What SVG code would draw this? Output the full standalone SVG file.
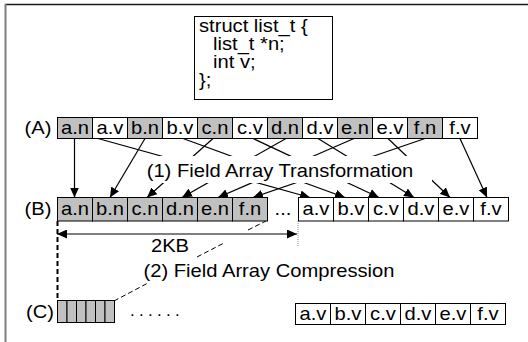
<svg xmlns="http://www.w3.org/2000/svg" width="528" height="342" viewBox="0 0 528 342">
  <style>
    .t { font-family: "Liberation Sans", Arial, sans-serif; font-size: 18px; fill: #000;
         transform-box: fill-box; transform: scaleX(1.12); }
    .c { text-anchor: middle; transform-origin: center; }
    .s { text-anchor: start; transform-origin: left center; }
    .cell { stroke: #000; stroke-width: 1; }
    .n { fill: #c0c0c0; }
    .v { fill: #fff; }
    .conn { stroke: #000; stroke-width: 1.2; fill: none; }
    .arr { marker-end: url(#head); }
  </style>
  <defs>
    <marker id="head" viewBox="0 0 10 9" refX="10" refY="4.5" markerWidth="10" markerHeight="9"
            markerUnits="userSpaceOnUse" orient="auto-start-reverse">
      <path d="M0,0 L10,4.5 L0,9 z" fill="#000"/>
    </marker>
  </defs>

  <rect width="528" height="342" fill="#fff"/>

  <!-- frame -->
  <g id="frame">
    <line x1="5" y1="4.5" x2="528" y2="4.5" stroke="#1a1a1a" stroke-width="1.5"/>
    <line x1="5.5" y1="4" x2="5.5" y2="342" stroke="#7f7f7f" stroke-width="2"/>
  </g>

  <!-- struct declaration -->
  <g id="struct">
    <rect x="194.5" y="16.5" width="138" height="83" fill="#fff" stroke="#000" stroke-width="1"/>
    <text class="t s" x="199" y="32">struct list_t {</text>
    <text class="t s" x="213" y="50">list_t *n;</text>
    <text class="t s" x="213" y="68">int v;</text>
    <text class="t s" x="199" y="86">};</text>
  </g>

  <!-- connectors: field moves from (A) to (B) -->
  <g id="connectors">
    <line class="conn arr" x1="74.5" y1="138.5" x2="74.5" y2="197.5"/>
    <line class="conn arr" x1="98" y1="138.5" x2="310" y2="197.5"/>
    <line class="conn arr" x1="145" y1="138.5" x2="110" y2="197.5"/>
    <line class="conn arr" x1="183" y1="138.5" x2="345" y2="197.5"/>
    <line class="conn arr" x1="213" y1="138.5" x2="147" y2="197.5"/>
    <line class="conn arr" x1="253" y1="138.5" x2="379" y2="197.5"/>
    <line class="conn arr" x1="286" y1="138.5" x2="182" y2="197.5"/>
    <line class="conn arr" x1="318" y1="138.5" x2="414" y2="197.5"/>
    <line class="conn arr" x1="354" y1="138.5" x2="218" y2="197.5"/>
    <line class="conn arr" x1="388" y1="138.5" x2="450" y2="197.5"/>
    <line class="conn arr" x1="425" y1="138.5" x2="253" y2="197.5"/>
    <line class="conn arr" x1="460" y1="138.5" x2="487" y2="197.5"/>
    <!-- 2KB span -->
    <line class="conn" x1="57" y1="234" x2="297" y2="234" marker-start="url(#head)" marker-end="url(#head)"/>
    <line x1="57.5" y1="221" x2="57.5" y2="301" stroke="#000" stroke-width="2" stroke-dasharray="5 3"/>
    <line x1="298" y1="221" x2="298" y2="246" stroke="#888" stroke-width="1" stroke-dasharray="1 1"/>
    <!-- compression -->
    <path d="M114,301 L148,283 M197,257 L224,243 M248,230 L266,221" stroke="#000" stroke-width="1" stroke-dasharray="5 3" fill="none"/>
  </g>

  <!-- step labels -->
  <g id="label-transform">
    <rect x="140" y="156" width="292" height="27" fill="#fff"/>
    <text class="t c" x="280" y="177">(1) Field Array Transformation</text>
  </g>
  <g id="label-2kb">
    <text class="t c" x="170" y="252">2KB</text>
  </g>
  <g id="label-compress">
    <text class="t c" x="269" y="277">(2) Field Array Compression</text>
  </g>

  <!-- row labels -->
  <text class="t c" x="38" y="134">(A)</text>
  <text class="t c" x="38" y="215">(B)</text>
  <text class="t c" x="40" y="318">(C)</text>

  <!-- (A) array of structs -->
  <g id="rowA">
    <g id="A-a-n"><rect class="cell n" x="57.5" y="117.5" width="35" height="21"/><text class="t c" x="75" y="134">a.n</text></g>
    <g id="A-a-v"><rect class="cell v" x="92.5" y="117.5" width="35" height="21"/><text class="t c" x="110" y="134">a.v</text></g>
    <g id="A-b-n"><rect class="cell n" x="127.5" y="117.5" width="35" height="21"/><text class="t c" x="145" y="134">b.n</text></g>
    <g id="A-b-v"><rect class="cell v" x="162.5" y="117.5" width="35" height="21"/><text class="t c" x="180" y="134">b.v</text></g>
    <g id="A-c-n"><rect class="cell n" x="197.5" y="117.5" width="35" height="21"/><text class="t c" x="215" y="134">c.n</text></g>
    <g id="A-c-v"><rect class="cell v" x="232.5" y="117.5" width="35" height="21"/><text class="t c" x="250" y="134">c.v</text></g>
    <g id="A-d-n"><rect class="cell n" x="267.5" y="117.5" width="35" height="21"/><text class="t c" x="285" y="134">d.n</text></g>
    <g id="A-d-v"><rect class="cell v" x="302.5" y="117.5" width="35" height="21"/><text class="t c" x="320" y="134">d.v</text></g>
    <g id="A-e-n"><rect class="cell n" x="337.5" y="117.5" width="35" height="21"/><text class="t c" x="355" y="134">e.n</text></g>
    <g id="A-e-v"><rect class="cell v" x="372.5" y="117.5" width="35" height="21"/><text class="t c" x="390" y="134">e.v</text></g>
    <g id="A-f-n"><rect class="cell n" x="407.5" y="117.5" width="35" height="21"/><text class="t c" x="425" y="134">f.n</text></g>
    <g id="A-f-v"><rect class="cell v" x="442.5" y="117.5" width="35" height="21"/><text class="t c" x="460" y="134">f.v</text></g>
  </g>

  <!-- (B) field arrays -->
  <g id="rowB">
    <g id="B-a-n"><rect class="cell n" x="57.5" y="197.5" width="35" height="23.5"/><text class="t c" x="75" y="215">a.n</text></g>
    <g id="B-b-n"><rect class="cell n" x="92.5" y="197.5" width="35" height="23.5"/><text class="t c" x="110" y="215">b.n</text></g>
    <g id="B-c-n"><rect class="cell n" x="127.5" y="197.5" width="35" height="23.5"/><text class="t c" x="145" y="215">c.n</text></g>
    <g id="B-d-n"><rect class="cell n" x="162.5" y="197.5" width="35" height="23.5"/><text class="t c" x="180" y="215">d.n</text></g>
    <g id="B-e-n"><rect class="cell n" x="197.5" y="197.5" width="35" height="23.5"/><text class="t c" x="215" y="215">e.n</text></g>
    <g id="B-f-n"><rect class="cell n" x="232.5" y="197.5" width="35" height="23.5"/><text class="t c" x="250" y="215">f.n</text></g>
    <text class="t c" x="283" y="215">...</text>
    <g id="B-a-v"><rect class="cell v" x="298.5" y="197.5" width="35" height="23.5"/><text class="t c" x="316" y="215">a.v</text></g>
    <g id="B-b-v"><rect class="cell v" x="333.5" y="197.5" width="35" height="23.5"/><text class="t c" x="351" y="215">b.v</text></g>
    <g id="B-c-v"><rect class="cell v" x="368.5" y="197.5" width="35" height="23.5"/><text class="t c" x="386" y="215">c.v</text></g>
    <g id="B-d-v"><rect class="cell v" x="403.5" y="197.5" width="35" height="23.5"/><text class="t c" x="421" y="215">d.v</text></g>
    <g id="B-e-v"><rect class="cell v" x="438.5" y="197.5" width="35" height="23.5"/><text class="t c" x="456" y="215">e.v</text></g>
    <g id="B-f-v"><rect class="cell v" x="473.5" y="197.5" width="35" height="23.5"/><text class="t c" x="491" y="215">f.v</text></g>
  </g>

  <!-- (C) compressed pointer array -->
  <g id="rowC">
    <g id="C-packed">
      <rect class="cell n" x="57.5" y="300.5" width="9.5" height="22"/>
      <rect class="cell n" x="67" y="300.5" width="9.5" height="22"/>
      <rect class="cell n" x="76.5" y="300.5" width="9.5" height="22"/>
      <rect class="cell n" x="86" y="300.5" width="9.5" height="22"/>
      <rect class="cell n" x="95.5" y="300.5" width="9.5" height="22"/>
      <rect class="cell n" x="105" y="300.5" width="9.5" height="22"/>
    </g>
    <text x="130" y="316" font-family="Liberation Sans, Arial, sans-serif" font-size="17" letter-spacing="4.3">......</text>
    <g id="C-a-v"><rect class="cell v" x="295.5" y="303.5" width="35" height="21"/><text class="t c" x="313" y="320">a.v</text></g>
    <g id="C-b-v"><rect class="cell v" x="330.5" y="303.5" width="35" height="21"/><text class="t c" x="348" y="320">b.v</text></g>
    <g id="C-c-v"><rect class="cell v" x="365.5" y="303.5" width="35" height="21"/><text class="t c" x="383" y="320">c.v</text></g>
    <g id="C-d-v"><rect class="cell v" x="400.5" y="303.5" width="35" height="21"/><text class="t c" x="418" y="320">d.v</text></g>
    <g id="C-e-v"><rect class="cell v" x="435.5" y="303.5" width="35" height="21"/><text class="t c" x="453" y="320">e.v</text></g>
    <g id="C-f-v"><rect class="cell v" x="470.5" y="303.5" width="35" height="21"/><text class="t c" x="488" y="320">f.v</text></g>
  </g>
</svg>
